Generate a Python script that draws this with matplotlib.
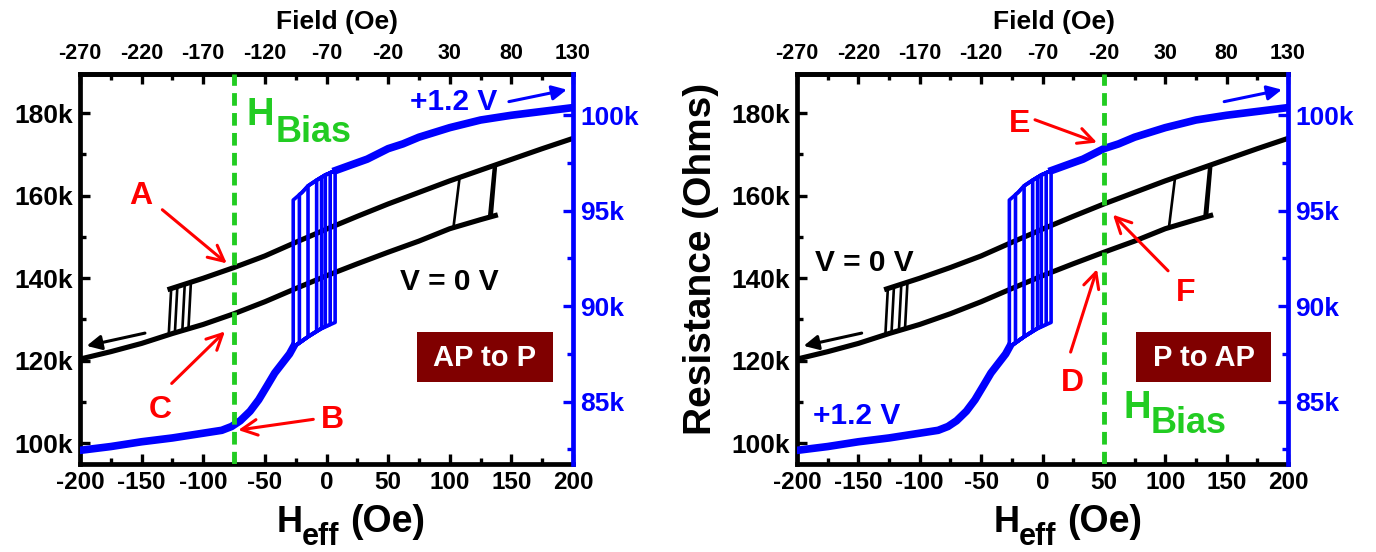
import numpy as np
import matplotlib
matplotlib.use('Agg')
import matplotlib.pyplot as plt
from matplotlib.patches import Rectangle
from matplotlib.ticker import FixedLocator, MultipleLocator

plt.rcParams['font.family'] = ['Liberation Sans', 'DejaVu Sans']
plt.rcParams['font.weight'] = 'bold'
plt.rcParams['axes.unicode_minus'] = False

# ---------------- data (field in Oe, resistance in kOhm) ----------------
# V = 0 V loop (left axis)
blk_up_H = [-127, -100, -75, -50, -25, 0, 25, 50, 75, 100, 125, 150, 175, 200]
blk_up_R = [137.4, 140.0, 142.6, 145.4, 148.7, 151.9, 155.0, 158.0, 160.8, 163.6, 166.2, 168.8, 171.4, 173.9]
blk_lo_H = [-200, -175, -150, -125, -100, -75, -50, -25, 0, 25, 50, 75, 100, 125, 137]
blk_lo_R = [120.4, 122.2, 124.2, 126.6, 128.8, 131.4, 134.3, 137.5, 140.6, 143.5, 146.3, 149.0, 152.0, 154.2, 155.2]
# switching (down sweep: upper -> lower)
blk_dn_Htop = [-126, -121, -115, -110]
blk_dn_Hbot = [-128, -123, -117, -112]
blk_dn_Rtop = [137.5, 138.0, 138.6, 139.1]
blk_dn_Rbot = [126.3, 126.8, 127.2, 127.8]
# switching (up sweep: lower -> upper)
blk_us_Hbot = [103, 132, 133, 134]
blk_us_Htop = [108, 136, 137, 137.5]
blk_us_Rbot = [152.3, 154.9, 155.0, 155.1]
blk_us_Rtop = [164.4, 167.3, 167.4, 167.5]

# +1.2 V loop (right axis)
blu_up_H = [-27, -20, -15, -8, -1, 8, 20, 33, 50, 62, 75, 100, 125, 150, 175, 200]
blu_up_R = [95.56, 95.95, 96.3, 96.6, 96.87, 97.12, 97.4, 97.7, 98.25, 98.5, 98.85, 99.35, 99.75, 100.0, 100.2, 100.4]
blu_lo_H = [-200, -175, -150, -125, -100, -85, -77, -70, -62, -55, -48, -42, -36, -30, -27, -15, -5, 7]
blu_lo_R = [82.45, 82.65, 82.9, 83.1, 83.35, 83.5, 83.7, 84.0, 84.5, 85.1, 85.85, 86.5, 87.0, 87.5, 87.85, 88.4, 88.8, 89.15]
blu_dn_H = [-27, -22, -15, -8]
blu_dn_Rtop = [95.56, 95.85, 96.3, 96.6]
blu_dn_Rbot = [87.85, 88.1, 88.4, 88.7]
blu_us_H = [-4, -1, 3, 7]
blu_us_Rbot = [88.85, 88.95, 89.05, 89.15]
blu_us_Rtop = [96.75, 96.87, 97.0, 97.1]

heff_ticks = [-200, -150, -100, -50, 0, 50, 100, 150, 200]
field_ticks = [-270, -220, -170, -120, -70, -20, 30, 80, 130]
field_offset = -70
left_ticks = [100, 120, 140, 160, 180]
right_ticks = [85, 90, 95, 100]

RED = '#FF0000'
GREEN = '#22CC22'
BLUE = '#0000FF'

W, H = 1376, 552
fig = plt.figure(figsize=(W / 100, H / 100), dpi=100)


def fx(x):
    return x / W


def fy(y):
    return 1 - y / H


def sweep_down(upH, upR, loH, loR, htop, rtop, hbot, rbot):
    hs = [h for h in upH if h > htop][::-1]
    rs = [r for h, r in zip(upH, upR) if h > htop][::-1]
    hs += [htop, hbot]
    rs += [rtop, rbot]
    hs += [h for h in loH if h < hbot][::-1]
    rs += [r for h, r in zip(loH, loR) if h < hbot][::-1]
    return hs, rs


def sweep_up(upH, upR, loH, loR, hbot, rbot, htop, rtop):
    hs = [h for h in loH if h < hbot]
    rs = [r for h, r in zip(loH, loR) if h < hbot]
    hs += [hbot, htop]
    rs += [rbot, rtop]
    hs += [h for h in upH if h > htop]
    rs += [r for h, r in zip(upH, upR) if h > htop]
    return hs, rs


def panel(x0, x1, hbias, boxlabel, right_panel):
    y0, y1 = 74, 464.3
    ax = fig.add_axes([fx(x0), fy(y1), fx(x1 - x0), (y1 - y0) / H])
    ax2 = ax.twinx()
    ax.set_xlim(-200, 200)
    ax.set_ylim(94.9, 189.5)
    ax2.set_ylim(81.72, 102.16)

    # black loops
    for i in range(len(blk_dn_Htop)):
        h, r = sweep_down(blk_up_H, blk_up_R, blk_lo_H, blk_lo_R,
                          blk_dn_Htop[i], blk_dn_Rtop[i], blk_dn_Hbot[i], blk_dn_Rbot[i])
        ax.plot(h, r, color='black', lw=1.9)
        h, r = sweep_up(blk_up_H, blk_up_R, blk_lo_H, blk_lo_R,
                        blk_us_Hbot[i], blk_us_Rbot[i], blk_us_Htop[i], blk_us_Rtop[i])
        ax.plot(h, r, color='black', lw=1.9)
    ax.plot(blk_up_H, blk_up_R, color='black', lw=3.7)
    ax.plot(blk_lo_H, blk_lo_R, color='black', lw=3.7)

    # blue loops
    for i in range(len(blu_dn_H)):
        h, r = sweep_down(blu_up_H, blu_up_R, blu_lo_H, blu_lo_R,
                          blu_dn_H[i], blu_dn_Rtop[i], blu_dn_H[i], blu_dn_Rbot[i])
        ax2.plot(h, r, color=BLUE, lw=2.6)
        h, r = sweep_up(blu_up_H, blu_up_R, blu_lo_H, blu_lo_R,
                        blu_us_H[i], blu_us_Rbot[i], blu_us_H[i], blu_us_Rtop[i])
        ax2.plot(h, r, color=BLUE, lw=2.6)
    thick_lo = [(h, r) for h, r in zip(blu_lo_H, blu_lo_R) if h <= -27]
    thick_up = [(h, r) for h, r in zip(blu_up_H, blu_up_R) if h >= 8]
    ax2.plot([p[0] for p in thick_lo], [p[1] for p in thick_lo], color=BLUE, lw=5.5)
    ax2.plot([p[0] for p in thick_up], [p[1] for p in thick_up], color=BLUE, lw=5.5)

    # H_bias line
    ax2.axvline(hbias, color=GREEN, lw=3.5, linestyle=(0, (2.6, 1.5)), zorder=5)

    # axes styling
    for sp in ['left', 'bottom', 'top']:
        ax.spines[sp].set_linewidth(3.4)
    ax.spines['right'].set_visible(False)
    ax2.spines['right'].set_linewidth(3.4)
    ax2.spines['right'].set_color(BLUE)
    for sp in ['left', 'bottom', 'top']:
        ax2.spines[sp].set_visible(False)

    ax.set_xticks(heff_ticks)
    ax.xaxis.set_minor_locator(MultipleLocator(25))
    ax.set_xticklabels([str(t) for t in heff_ticks])
    ax.set_yticks(left_ticks)
    ax.set_yticklabels([f'{t}k' for t in left_ticks])
    ax.yaxis.set_minor_locator(MultipleLocator(10))
    ax.tick_params(axis='both', which='both', direction='in', width=2.4, top=False, right=False)
    ax.tick_params(axis='both', which='major', length=7.5)
    ax.tick_params(axis='both', which='minor', length=4.5)
    ax.tick_params(axis='x', which='major', labelsize=17.5, pad=5)
    ax.tick_params(axis='y', which='major', labelsize=19, pad=5)

    ax2.set_yticks(right_ticks)
    ax2.set_yticklabels([f'{t}k' for t in right_ticks])
    ax2.yaxis.set_minor_locator(MultipleLocator(2.5))
    ax2.tick_params(axis='y', which='both', direction='in', width=2.4, colors=BLUE, labelsize=19, pad=5)
    ax2.tick_params(axis='y', which='major', length=7.5)
    ax2.tick_params(axis='y', which='minor', length=4.5)

    sec = ax.secondary_xaxis('top', functions=(lambda h: h + field_offset, lambda f: f - field_offset))
    sec.set_xticks(field_ticks)
    sec.set_xticklabels([str(t) for t in field_ticks])
    sec.xaxis.set_minor_locator(FixedLocator([f + 25 for f in field_ticks[:-1]]))
    sec.tick_params(axis='x', which='both', direction='in', width=2.4, labelsize=15.5, pad=7)
    sec.tick_params(axis='x', which='major', length=7.5)
    sec.tick_params(axis='x', which='minor', length=4.5)
    sec.spines['top'].set_linewidth(3.4)

    td = ax.transData
    dx = x0 - 80
    # axis labels
    fig.text(fx(337 + dx), fy(29.3), 'Field (Oe)', fontsize=19, ha='center', va='baseline')
    fig.text(fx(276.7 + dx), fy(531.7), 'H', fontsize=26, ha='left', va='baseline')
    fig.text(fx(302 + dx), fy(545), 'eff', fontsize=22, ha='left', va='baseline')
    fig.text(fx(350 + dx), fy(531.7), '(Oe)', fontsize=27, ha='left', va='baseline')

    red_arrow = dict(arrowstyle='->', color=RED, lw=2.2, mutation_scale=28, shrinkA=0, shrinkB=0)

    def arrow(tail, head, props):
        ax2.annotate('', xy=head, xytext=tail, xycoords=td, textcoords=td, arrowprops=props, zorder=6)

    # sweep-direction arrows
    arrow((-147.3, 126.7), (-194.6, 123.6),
          dict(arrowstyle='-|>', color='black', lw=2.2, mutation_scale=22, shrinkA=0, shrinkB=0))
    arrow((148, 182.8), (195, 185.7),
          dict(arrowstyle='-|>', color=BLUE, lw=2.2, mutation_scale=22, shrinkA=0, shrinkB=0))

    # box
    ax2.add_patch(Rectangle((73.2 if not right_panel else 76.2, 114.9), 110.3, 12.15,
                            transform=td, facecolor='#800000', edgecolor='none', zorder=6))
    ax2.text(128.3 if not right_panel else 131.3, 118.8, boxlabel, transform=td, color='white',
             fontsize=21, ha='center', va='baseline', zorder=7)

    if not right_panel:
        ax2.text(-64.7, 177.2, 'H', transform=td, color=GREEN, fontsize=27.5, ha='left', va='baseline')
        ax2.text(-41.0, 173.1, 'Bias', transform=td, color=GREEN, fontsize=26, ha='left', va='baseline')
        ax2.text(59.6, 137.2, 'V = 0 V', transform=td, color='black', fontsize=21.5, ha='left', va='baseline')
        ax2.text(67.7, 180.8, '+1.2 V', transform=td, color=BLUE, fontsize=21.5, ha='left', va='baseline')
        ax2.text(-150.5, 158.1, 'A', transform=td, color=RED, fontsize=23, ha='center', va='baseline')
        ax2.text(-135.1, 106.1, 'C', transform=td, color=RED, fontsize=23, ha='center', va='baseline')
        ax2.text(4.9, 103.7, 'B', transform=td, color=RED, fontsize=23, ha='center', va='baseline')
        arrow((-133.2, 156.6), (-80.9, 143.6), red_arrow)
        arrow((-125.6, 114.5), (-82.4, 127.1), red_arrow)
        arrow((-10.7, 105.8), (-71.6, 103.2), red_arrow)
    else:
        ax2.text(65.6, 106.1, 'H', transform=td, color=GREEN, fontsize=27.5, ha='left', va='baseline')
        ax2.text(88.4, 102.5, 'Bias', transform=td, color=GREEN, fontsize=26, ha='left', va='baseline')
        ax2.text(-185.3, 141.8, 'V = 0 V', transform=td, color='black', fontsize=21.5, ha='left', va='baseline')
        ax2.text(-187.0, 104.7, '+1.2 V', transform=td, color=BLUE, fontsize=21.5, ha='left', va='baseline')
        ax2.text(-18.7, 175.5, 'E', transform=td, color=RED, fontsize=23, ha='center', va='baseline')
        ax2.text(116.9, 134.5, 'F', transform=td, color=RED, fontsize=23, ha='center', va='baseline')
        ax2.text(24.0, 112.7, 'D', transform=td, color=RED, fontsize=23, ha='center', va='baseline')
        arrow((-6.1, 178.4), (44.4, 172.9), red_arrow)
        arrow((102.3, 141.8), (57.4, 155.4), red_arrow)
        arrow((22.9, 122.1), (44.4, 142.2), red_arrow)
        fig.text(fx(701), fy(259), 'Resistance (Ohms)', fontsize=28, rotation=90,
                 ha='center', va='center')
    return ax, ax2


panel(80, 573, -75, 'AP to P', False)
panel(797, 1288, 50, 'P to AP', True)

fig.savefig('out.png', dpi=100)
